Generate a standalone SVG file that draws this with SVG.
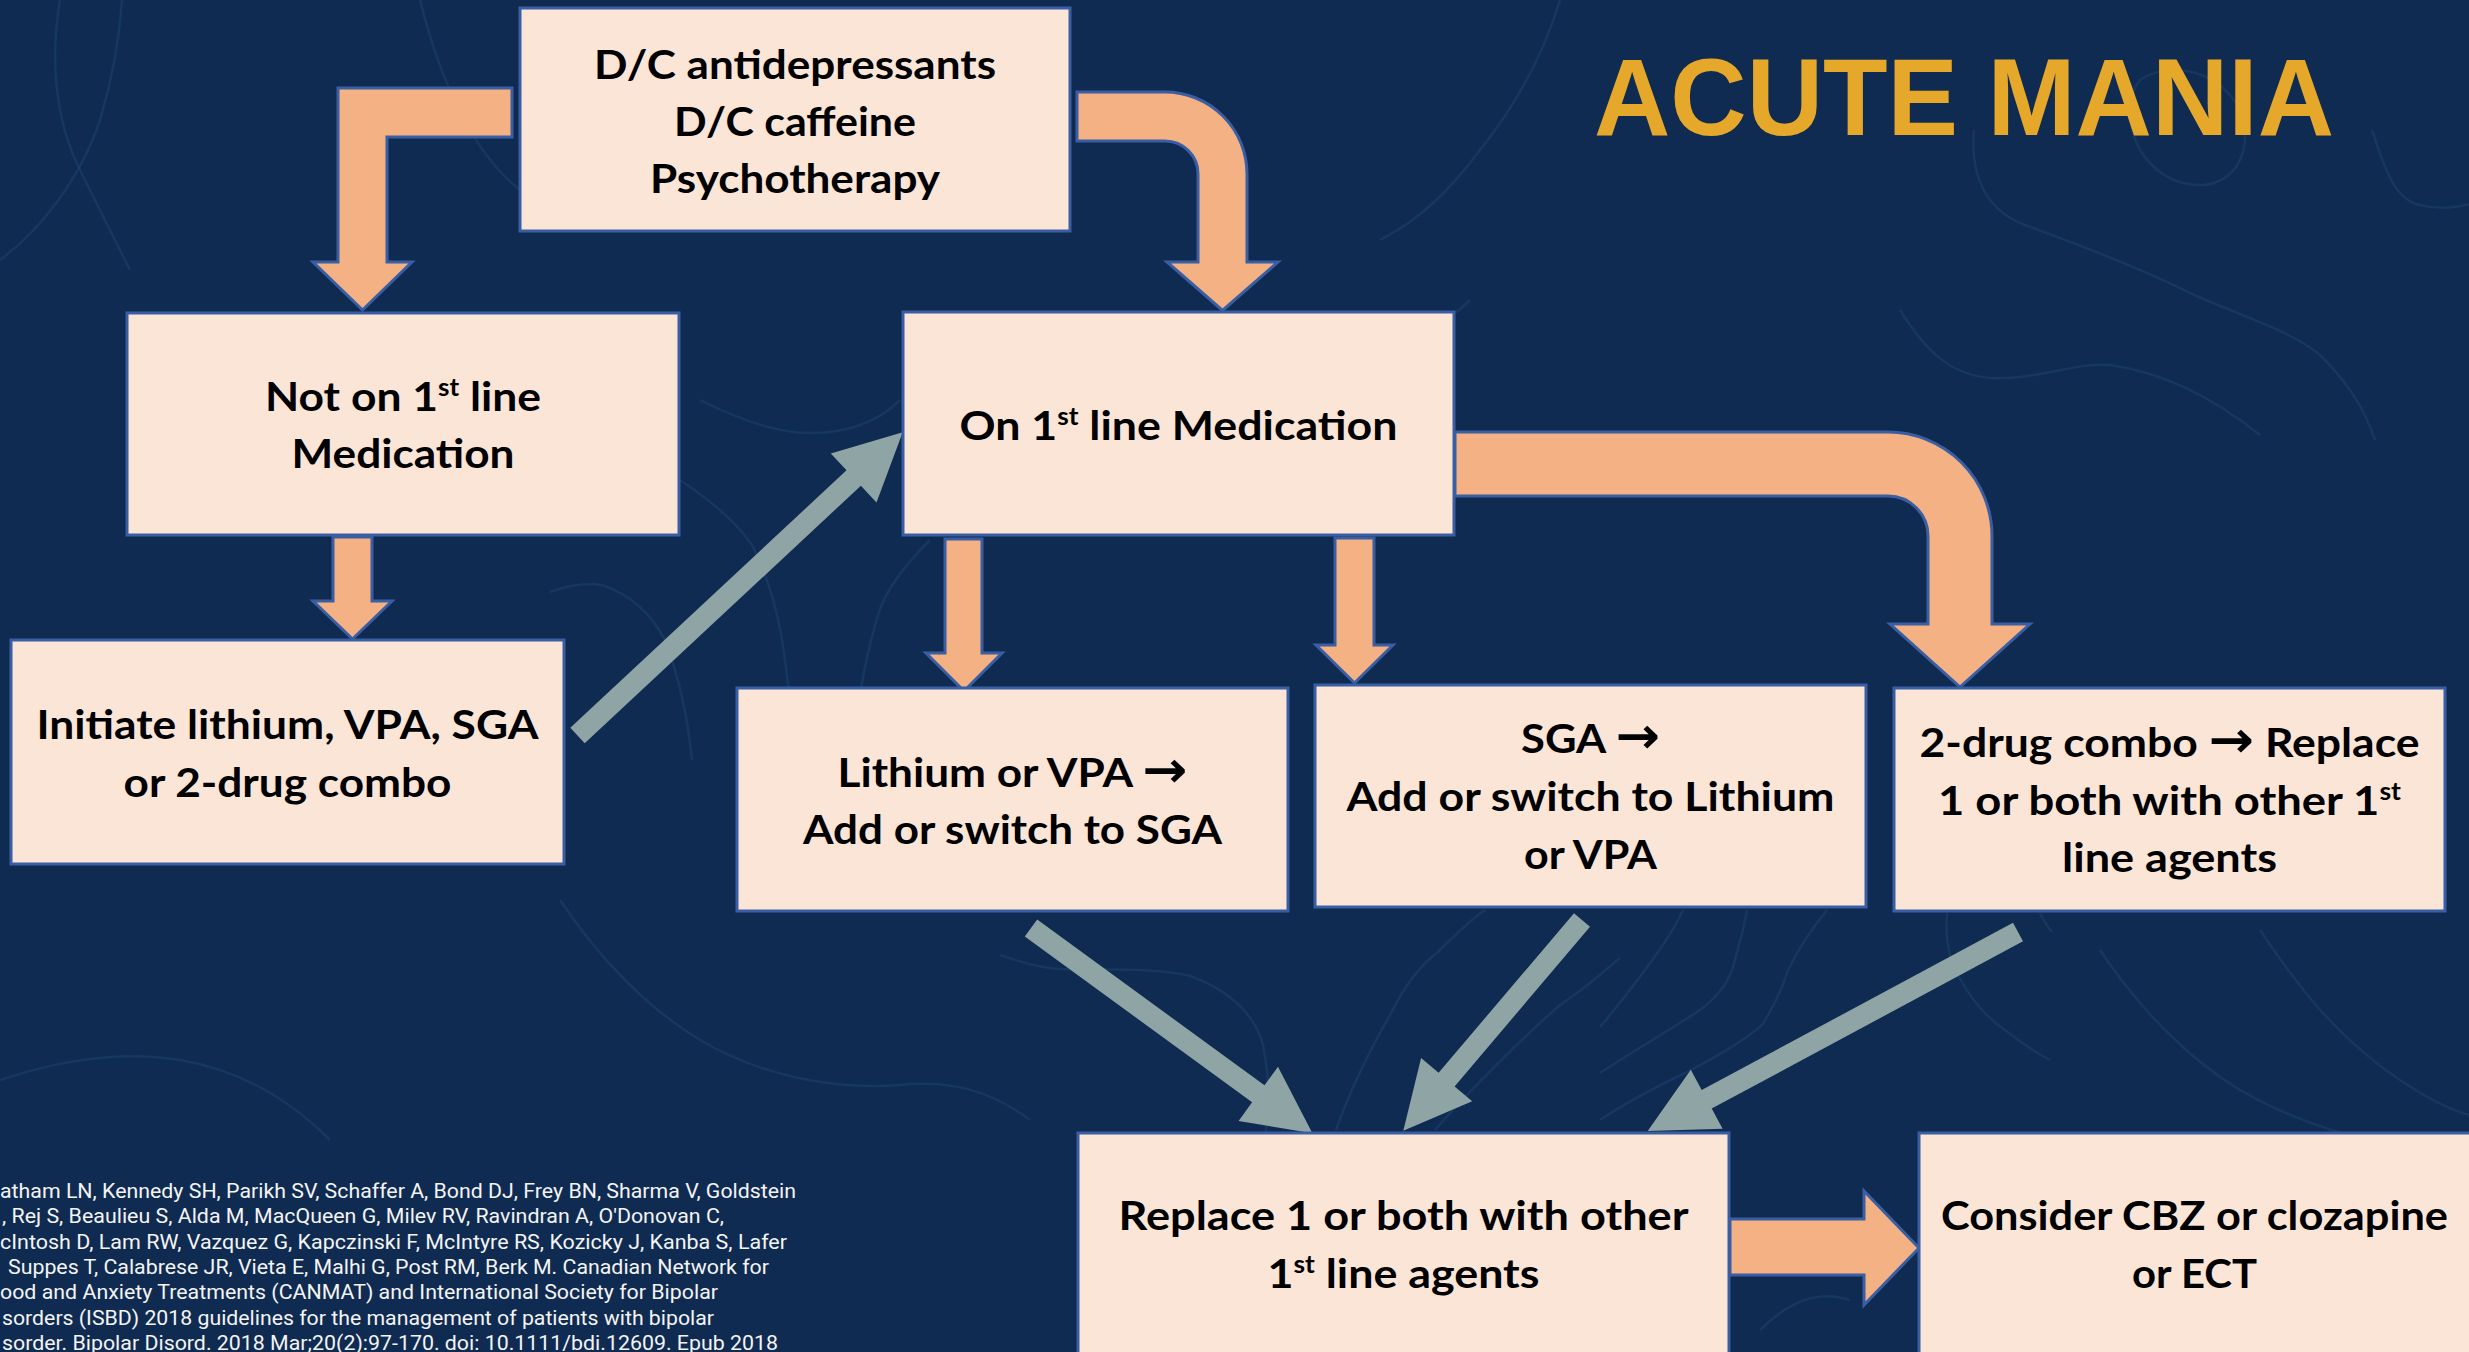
<svg xmlns="http://www.w3.org/2000/svg" width="2469" height="1352" viewBox="0 0 2469 1352">
  <defs>
    <style>
      .bg { fill: #102B51; }
      .topo { fill: none; stroke: #1A416E; stroke-width: 2.5; opacity: 0.55; }
      .box { fill: #FBE5D7; stroke: #3A5EA4; stroke-width: 3; }
      .oarrow { fill: #F4B183; stroke: #3A5EA4; stroke-width: 3; stroke-linejoin: miter; }
      .garrow { fill: #8FA4A5; stroke: none; }
      .lbl { font-family: Lato, "DejaVu Sans", sans-serif; font-weight: 700; font-size: 41px; fill: #000000; text-anchor: middle; }
      .sup { font-size: 24px; }
      .arr { font-family: "DejaVu Sans", sans-serif; font-weight: 700; font-size: 50px; }
      .title { font-family: "Liberation Sans", Arial, sans-serif; font-weight: 700; font-size: 109px; fill: #E5A82A; }
      .cite { font-family: Roboto, "Liberation Sans", sans-serif; font-size: 20px; fill: #F4F4F4; }
    </style>
  </defs>

  <rect class="bg" x="0" y="0" width="2469" height="1352"/>

  <g id="background-texture">
    <path class="topo" d="M1974,130 C1970,175 1985,210 2025,225 C2080,245 2140,268 2190,293 C2240,316 2290,330 2320,355 C2350,385 2365,410 2375,440"/>
    <path class="topo" d="M2140,80 C2170,60 2220,70 2240,110 C2255,150 2235,185 2200,185 C2165,185 2140,160 2132,130 C2128,110 2130,92 2140,80 Z"/>
    <path class="topo" d="M1900,310 C1925,350 1950,375 1990,378 C2040,380 2075,362 2110,365 C2160,372 2210,395 2260,435"/>
    <path class="topo" d="M2372,130 C2385,170 2395,200 2420,205 C2440,210 2455,208 2469,204"/>
    <path class="topo" d="M700,400 C740,420 780,433 810,433 C850,433 880,420 900,400"/>
    <path class="topo" d="M680,480 C710,500 735,520 752,545 C770,580 780,620 785,660 L790,700"/>
    <path class="topo" d="M550,592 C570,585 590,582 605,586 C630,595 650,612 665,640 C680,680 688,720 692,760"/>
    <path class="topo" d="M930,540 C905,565 885,590 878,615 C868,650 862,675 860,700"/>
    <path class="topo" d="M1000,955 C1020,962 1040,968 1060,969 C1110,970 1160,968 1190,976 C1230,990 1255,1015 1263,1045 C1270,1080 1270,1110 1265,1135"/>
    <path class="topo" d="M1336,1130 C1350,1090 1370,1050 1390,1015 C1405,985 1420,965 1438,952 C1455,935 1470,920 1485,910"/>
    <path class="topo" d="M1435,1130 C1470,1090 1520,1040 1560,1005 C1590,985 1605,970 1620,958"/>
    <path class="topo" d="M1600,1027 C1615,1010 1630,990 1645,970 C1660,950 1675,928 1683,910"/>
    <path class="topo" d="M1600,1073 C1635,1050 1670,1030 1700,1010 C1720,995 1730,980 1735,960 C1740,940 1745,925 1747,910"/>
    <path class="topo" d="M1600,1120 C1630,1100 1660,1085 1685,1073 C1720,1055 1745,1040 1762,1025 C1775,1005 1782,990 1788,970 C1800,945 1815,925 1827,910"/>
    <path class="topo" d="M1947,913 C1945,940 1950,965 1962,982 C1975,1005 1990,1020 2005,1030 C2020,1042 2035,1052 2050,1060"/>
    <path class="topo" d="M2040,913 C2043,920 2047,926 2052,932"/>
    <path class="topo" d="M0,260 C40,230 80,180 100,120 C115,70 120,30 122,0"/>
    <path class="topo" d="M60,0 C50,60 55,120 80,170 C100,210 115,240 130,270"/>
    <path class="topo" d="M420,0 C440,80 470,150 520,190"/>
    <path class="topo" d="M1140,400 C1200,380 1260,360 1330,350 C1400,345 1440,330 1470,300"/>
    <path class="topo" d="M1560,0 C1545,50 1520,100 1480,150 C1450,190 1420,220 1380,240"/>
    <path class="topo" d="M0,1080 C60,1060 120,1050 180,1060 C240,1070 290,1100 330,1140"/>
    <path class="topo" d="M2100,950 C2140,1010 2190,1060 2240,1090 C2300,1125 2360,1140 2420,1150"/>
    <path class="topo" d="M2260,930 C2300,990 2340,1040 2400,1080 C2430,1100 2450,1110 2469,1115"/>
    <path class="topo" d="M1760,1330 C1790,1300 1820,1290 1850,1300"/>
    <path class="topo" d="M560,900 C600,960 650,1010 700,1040 C760,1075 830,1090 900,1085 C950,1080 990,1090 1030,1120"/>
  </g>

  <g id="connectors">
    <path id="c-top-notOn" class="oarrow" d="M512,88 L338,88 L338,262 L313,262 L362.5,310 L412,262 L387,262 L387,137 L512,137 Z"/>
    <path id="c-top-on" class="oarrow" d="M1077,92 L1165,92 A82,82 0 0 1 1247,174 L1247,262 L1278,262 L1222.5,310.5 L1167,262 L1198,262 L1198,174 A33,33 0 0 0 1165,141 L1077,141 Z"/>
    <path id="c-notOn-initiate" class="oarrow" d="M333,537 L372,537 L372,601 L392,601 L352.5,639 L313,601 L333,601 Z"/>
    <path id="c-on-lithium" class="oarrow" d="M945,539 L982,539 L982,653 L1002,653 L964,691 L926,653 L945,653 Z"/>
    <path id="c-on-sga" class="oarrow" d="M1335,538 L1374,538 L1374,645 L1393,645 L1354.5,683 L1316,645 L1335,645 Z"/>
    <path id="c-on-twodrug" class="oarrow" d="M1455,432 L1888,432 A104,104 0 0 1 1992,536 L1992,624 L2030,624 L1960,687 L1890,624 L1928,624 L1928,536 A40,40 0 0 0 1888,496 L1455,496 Z"/>
    <path id="c-replace-consider" class="oarrow" d="M1730,1219 L1864,1219 L1864,1191 L1919,1248 L1864,1305 L1864,1275 L1730,1275 Z"/>
    <polygon id="c-initiate-on" class="garrow" points="584.7,743.2 860.9,485.7 876.5,502.5 902.7,432.3 830.8,453.5 846.5,470.3 570.3,727.8"/>
    <polygon id="c-lithium-replace" class="garrow" points="1024.8,936.5 1252.1,1102.3 1238.6,1120.9 1312.4,1133.3 1278.0,1066.7 1264.5,1085.3 1037.2,919.5"/>
    <polygon id="c-sga-replace" class="garrow" points="1574.0,913.2 1438.6,1072.8 1421.1,1057.9 1403.3,1130.7 1472.2,1101.3 1454.6,1086.4 1590.0,926.8"/>
    <polygon id="c-twodrug-replace" class="garrow" points="2013.0,922.8 1701.7,1090.1 1690.8,1069.8 1647.7,1131 1722.6,1128.8 1711.7,1108.6 2023.0,941.3"/>
  </g>

  <g id="node-top">
    <rect class="box" x="520" y="8" width="550" height="223"/>
    <text class="lbl" x="795" y="79" textLength="402" lengthAdjust="spacingAndGlyphs">D/C antidepressants</text>
    <text class="lbl" x="795" y="136" textLength="242" lengthAdjust="spacingAndGlyphs">D/C caffeine</text>
    <text class="lbl" x="795" y="193" textLength="290" lengthAdjust="spacingAndGlyphs">Psychotherapy</text>
  </g>

  <g id="node-not-on">
    <rect class="box" x="127" y="313" width="552" height="222"/>
    <text class="lbl" x="403" y="411" textLength="276" lengthAdjust="spacingAndGlyphs">Not on 1<tspan class="sup" dy="-15">st</tspan><tspan dy="15"> line</tspan></text>
    <text class="lbl" x="403" y="468" textLength="223" lengthAdjust="spacingAndGlyphs">Medication</text>
  </g>

  <g id="node-initiate">
    <rect class="box" x="11" y="640" width="553" height="224"/>
    <text class="lbl" x="287.5" y="739" textLength="502" lengthAdjust="spacingAndGlyphs">Initiate lithium, VPA, SGA</text>
    <text class="lbl" x="287.5" y="797" textLength="328" lengthAdjust="spacingAndGlyphs">or 2-drug combo</text>
  </g>

  <g id="node-on">
    <rect class="box" x="903" y="312" width="551" height="223"/>
    <text class="lbl" x="1178.5" y="440" textLength="438" lengthAdjust="spacingAndGlyphs">On 1<tspan class="sup" dy="-15">st</tspan><tspan dy="15"> line Medication</tspan></text>
  </g>

  <g id="node-lithium">
    <rect class="box" x="737" y="688" width="551" height="223"/>
    <text class="lbl" x="1012.5" y="787" textLength="350" lengthAdjust="spacingAndGlyphs">Lithium or VPA <tspan class="arr">→</tspan></text>
    <text class="lbl" x="1012.5" y="844" textLength="419" lengthAdjust="spacingAndGlyphs">Add or switch to SGA</text>
  </g>

  <g id="node-sga">
    <rect class="box" x="1315" y="685" width="551" height="222"/>
    <text class="lbl" x="1590.5" y="753" textLength="139" lengthAdjust="spacingAndGlyphs">SGA <tspan class="arr">→</tspan></text>
    <text class="lbl" x="1590.5" y="811" textLength="488" lengthAdjust="spacingAndGlyphs">Add or switch to Lithium</text>
    <text class="lbl" x="1590.5" y="869" textLength="133" lengthAdjust="spacingAndGlyphs">or VPA</text>
  </g>

  <g id="node-twodrug">
    <rect class="box" x="1894" y="688" width="551" height="223"/>
    <text class="lbl" x="2169.5" y="757" textLength="500" lengthAdjust="spacingAndGlyphs">2-drug combo <tspan class="arr">→</tspan> Replace</text>
    <text class="lbl" x="2169.5" y="815" textLength="463" lengthAdjust="spacingAndGlyphs">1 or both with other 1<tspan class="sup" dy="-15">st</tspan></text>
    <text class="lbl" x="2169.5" y="872" textLength="215" lengthAdjust="spacingAndGlyphs">line agents</text>
  </g>

  <g id="node-replace">
    <rect class="box" x="1078" y="1133" width="651" height="260"/>
    <text class="lbl" x="1403.5" y="1230" textLength="570" lengthAdjust="spacingAndGlyphs">Replace 1 or both with other</text>
    <text class="lbl" x="1403.5" y="1288" textLength="272" lengthAdjust="spacingAndGlyphs">1<tspan class="sup" dy="-15">st</tspan><tspan dy="15"> line agents</tspan></text>
  </g>

  <g id="node-consider">
    <rect class="box" x="1919" y="1133" width="560" height="260"/>
    <text class="lbl" x="2194.5" y="1230" textLength="507" lengthAdjust="spacingAndGlyphs">Consider CBZ or clozapine</text>
    <text class="lbl" x="2194.5" y="1288" textLength="125" lengthAdjust="spacingAndGlyphs">or ECT</text>
  </g>

  <g id="title">
    <text class="title" x="1594" y="135" textLength="740" lengthAdjust="spacingAndGlyphs">ACUTE MANIA</text>
  </g>

  <g id="citation">
    <text class="cite" x="0" y="1198" textLength="796" lengthAdjust="spacingAndGlyphs">atham LN, Kennedy SH, Parikh SV, Schaffer A, Bond DJ, Frey BN, Sharma V, Goldstein</text>
    <text class="cite" x="2" y="1223" textLength="722" lengthAdjust="spacingAndGlyphs">, Rej S, Beaulieu S, Alda M, MacQueen G, Milev RV, Ravindran A, O'Donovan C,</text>
    <text class="cite" x="0" y="1249" textLength="787" lengthAdjust="spacingAndGlyphs">cIntosh D, Lam RW, Vazquez G, Kapczinski F, McIntyre RS, Kozicky J, Kanba S, Lafer</text>
    <text class="cite" x="8" y="1274" textLength="761" lengthAdjust="spacingAndGlyphs">Suppes T, Calabrese JR, Vieta E, Malhi G, Post RM, Berk M. Canadian Network for</text>
    <text class="cite" x="0" y="1299" textLength="718" lengthAdjust="spacingAndGlyphs">ood and Anxiety Treatments (CANMAT) and International Society for Bipolar</text>
    <text class="cite" x="2" y="1325" textLength="712" lengthAdjust="spacingAndGlyphs">sorders (ISBD) 2018 guidelines for the management of patients with bipolar</text>
    <text class="cite" x="2" y="1350" textLength="776" lengthAdjust="spacingAndGlyphs">sorder. Bipolar Disord. 2018 Mar;20(2):97-170. doi: 10.1111/bdi.12609. Epub 2018</text>
  </g>
</svg>
